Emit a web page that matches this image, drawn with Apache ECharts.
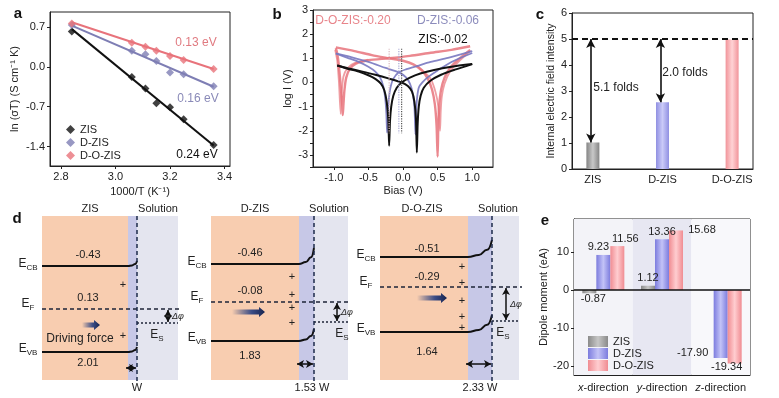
<!DOCTYPE html>
<html>
<head>
<meta charset="utf-8">
<script src="https://cdn.jsdelivr.net/npm/echarts@6/dist/echarts.min.js"></script>
<style>
  html, body { margin: 0; padding: 0; background: #fff; }
  #chart { width: 779px; height: 398px; }
</style>
</head>
<body>
<div id="chart"></div>
<script>
// ---------- panel a : Arrhenius plot ----------
const invT = [2.84, 3.06, 3.11, 3.15, 3.20, 3.25, 3.36];
const lnZIS = [0.62, -0.18, -0.38, -0.64, -0.71, -0.92, -1.37];
const lnDZIS = [0.73, 0.28, 0.22, 0.10, -0.10, -0.13, -0.34];
const lnDOZIS = [0.76, 0.42, 0.35, 0.28, 0.19, 0.12, -0.04];
const fitEnds = [2.84, 3.36];
const fitZIS = [0.66, -1.38];
const fitDZIS = [0.72, -0.35];
const fitDOZIS = [0.78, -0.04];
const activation = ['0.24 eV', '0.16 eV', '0.13 eV'];
const aTicksX = [2.8, 3.0, 3.2, 3.4];
const aTicksY = [-1.4, -0.7, 0, 0.7];

// ---------- panel b : log I vs bias (two sweeps per sample) ----------
const zisSweepA = [[-0.95,0.70],[-0.8,0.57],[-0.64,0.45],[-0.5,0.30],[-0.4,0.15],[-0.32,-0.05],[-0.27,-0.32],[-0.235,-0.8],[-0.213,-1.5],[-0.20,-2.62],
  [-0.188,-1.6],[-0.17,-1.0],[-0.14,-0.55],[-0.09,-0.22],[-0.02,0.0],[0.1,0.2],[0.25,0.37],[0.45,0.52],[0.7,0.65],[1.0,0.76]];
const zisSweepB = [[-0.95,0.70],[-0.8,0.59],[-0.6,0.46],[-0.4,0.32],[-0.2,0.16],[-0.02,0.0],[0.07,-0.15],[0.13,-0.38],[0.165,-0.8],[0.187,-1.5],[0.20,-2.9],
  [0.212,-1.7],[0.228,-1.0],[0.255,-0.55],[0.3,-0.22],[0.4,0.08],[0.55,0.32],[0.75,0.53],[1.0,0.76]];
const dzisSweepA = [[-0.97,1.2],[-0.8,1.02],[-0.64,0.85],[-0.5,0.65],[-0.4,0.45],[-0.33,0.2],[-0.285,-0.15],[-0.255,-0.7],[-0.24,-1.3],[-0.23,-2.08],
  [-0.22,-1.3],[-0.205,-0.7],[-0.18,-0.2],[-0.14,0.15],[-0.06,0.42],[0.05,0.55],[0.2,0.68],[0.4,0.85],[0.65,1.02],[1.0,1.3]];
const dzisSweepB = [[-0.97,1.2],[-0.75,1.05],[-0.5,0.85],[-0.25,0.6],[-0.06,0.42],[0.04,0.22],[0.1,-0.05],[0.14,-0.45],[0.165,-1.0],[0.18,-2.15],
  [0.19,-1.2],[0.205,-0.6],[0.23,-0.2],[0.28,0.0],[0.36,0.22],[0.5,0.5],[0.7,0.85],[1.0,1.22]];
const dozisSweepA = [[-0.97,1.42],[-0.95,1.2],[-0.93,0.8],[-0.91,0.2],[-0.89,-0.5],[-0.875,-1.0],[-0.87,-1.35],
  [-0.86,-0.9],[-0.845,-0.3],[-0.82,0.2],[-0.77,0.55],[-0.68,0.78],[-0.5,0.92],[-0.2,1.0],[0.1,1.1],[0.4,1.23],[0.7,1.35],[0.97,1.5]];
const dozisSweepB = [[-0.97,1.45],[-0.7,1.3],[-0.45,1.13],[-0.2,1.0],[0.0,0.9],[0.15,0.75],[0.27,0.5],[0.36,0.15],[0.42,-0.3],[0.46,-0.9],[0.485,-1.8],[0.50,-3.07],
  [0.51,-1.8],[0.525,-0.9],[0.55,-0.3],[0.6,0.2],[0.68,0.6],[0.8,0.95],[0.97,1.35]];
const dozisRepeatA = [[-0.98,1.35],[-0.95,0.9],[-0.925,0.0],[-0.9,-1.3],[-0.885,-0.4],[-0.86,0.25],[-0.8,0.6],[-0.7,0.8],[-0.5,0.94]];
const dozisRepeatB = [[0.2,0.7],[0.3,0.45],[0.4,0.15],[0.47,-0.4],[0.51,-1.0],[0.535,-2.0],[0.545,-1.2],[0.56,-0.6],[0.6,-0.05],[0.68,0.45],[0.8,0.85],[0.97,1.3]];
const crossBias = [-0.20, -0.06, -0.02];
const crossLabels = ['D-O-ZIS:-0.20', 'D-ZIS:-0.06', 'ZIS:-0.02'];
const bTicksX = [-1, -0.5, 0, 0.5, 1];

// ---------- panel c : internal electric field ----------
const cCats = ['ZIS', 'D-ZIS', 'D-O-ZIS'];
const cField = [1.02, 2.57, 4.98];
const cRef = 5;
const cFolds = ['5.1 folds', '2.0 folds'];

// ---------- panel d : band diagrams ----------
const dSamples = ['ZIS', 'D-ZIS', 'D-O-ZIS'];
const dECB = ['-0.43', '-0.46', '-0.51'];
const dEF = ['0.13', '-0.08', '-0.29'];
const dEVB = ['2.01', '1.83', '1.64'];
const dW = ['W', '1.53 W', '2.33 W'];

// ---------- panel e : dipole moment ----------
const eDirs = ['x-direction', 'y-direction', 'z-direction'];
const eZIS = [-0.87, 1.12, '-'];
const eDZIS = [9.23, 13.36, -17.90];
const eDOZIS = [11.56, 15.68, -19.34];

// ---------- drawing ----------
const FONT = '"Liberation Sans", Arial, Helvetica, sans-serif';
const INK = '#222';
const cA = ['#111111', '#7e7eb4', '#e8737b'];

function valAxis(grid, min, max, ticks, fmt, extra) {
  return Object.assign({
    type: 'value', gridIndex: grid, min: min, max: max,
    axisLine: { show: true, onZero: false, lineStyle: { color: INK, width: 1 } },
    axisTick: { show: true, customValues: ticks, length: 3, lineStyle: { color: INK } },
    axisLabel: { customValues: ticks, formatter: fmt, color: INK, fontSize: 11, fontFamily: FONT, margin: 5,
      showMinLabel: true, showMaxLabel: true, hideOverlap: false },
    splitLine: { show: false },
    nameLocation: 'middle',
    nameTextStyle: { color: INK, fontSize: 11, fontFamily: FONT }
  }, extra || {});
}
const f1 = v => Number(v).toFixed(1);
const f0 = v => String(Math.round(v));

function cyl(edge, mid) {
  return { type: 'linear', x: 0, y: 0, x2: 1, y2: 0,
    colorStops: [{ offset: 0, color: edge }, { offset: 0.5, color: mid }, { offset: 1, color: edge }] };
}
function txt(x, y, text, o) {
  const st = Object.assign({ text: text, fill: INK, font: '12px ' + FONT,
    textAlign: 'center', textVerticalAlign: 'middle', align: 'center', verticalAlign: 'middle' }, o || {});
  return { type: 'text', x: x, y: y, z: 100, silent: true, style: st };
}
const subRich = {
  m: { fontSize: 12, fontFamily: FONT, lineHeight: 16, color: INK },
  s: { fontSize: 8, fontFamily: FONT, verticalAlign: 'bottom', color: INK }
};
function subTxt(x, y, main, sub) {
  return txt(x, y, '{m|' + main + '}{s|' + sub + '}', { rich: subRich });
}

const series = [];

// panel a
const aNames = ['ZIS', 'D-ZIS', 'D-O-ZIS'];
const aVals = [lnZIS, lnDZIS, lnDOZIS];
const aFits = [fitZIS, fitDZIS, fitDOZIS];
aNames.forEach((n, k) => {
  series.push({ type: 'line', xAxisIndex: 0, yAxisIndex: 0, silent: true, showSymbol: false, z: 2,
    data: fitEnds.map((x, i) => [x, aFits[k][i]]), lineStyle: { color: cA[k], width: 2 } });
  series.push({ name: n, type: 'scatter', xAxisIndex: 0, yAxisIndex: 0, z: 3, symbol: 'diamond', symbolSize: 8,
    data: invT.map((x, i) => [x, aVals[k][i]]), itemStyle: { color: cA[k] } });
});

// panel b
const bLines = [
  [dozisSweepA, cA[2], 2.4, 0.85], [dozisSweepB, cA[2], 2.4, 0.85],
  [dozisRepeatA, cA[2], 1.8, 0.7], [dozisRepeatB, cA[2], 1.8, 0.7],
  [dzisSweepA, '#7878c0', 1.8, 0.9], [dzisSweepB, '#7878c0', 1.8, 0.9],
  [zisSweepA, '#111', 2, 1], [zisSweepB, '#111', 2, 1]
];
bLines.forEach(l => series.push({ type: 'line', xAxisIndex: 1, yAxisIndex: 1, silent: true, showSymbol: false,
  smooth: 0.25, data: l[0], lineStyle: { color: l[1], width: l[2], opacity: l[3] } }));
const crossColors = ['#d9b8be', '#a8a8d4', '#555'];
crossBias.forEach((v, i) => series.push({ type: 'line', xAxisIndex: 1, yAxisIndex: 1, silent: true, showSymbol: false,
  data: [[v, 1.4], [v, -2.1]], lineStyle: { color: crossColors[i], width: 1.2, type: 'dotted' } }));

// panel c
const cColors = [['#858585', '#c8c8c8'], ['#9090e2', '#cacaf8'], ['#f1949a', '#ffd3d5']];
series.push({ type: 'bar', xAxisIndex: 2, yAxisIndex: 2, barWidth: 13, silent: true,
  data: cField.map((v, i) => ({ value: [i + 1, v], itemStyle: { color: cyl(cColors[i][0], cColors[i][1]) } })),
  markLine: { silent: true, symbol: ['none', 'none'], symbolSize: [7, 9], label: { show: false },
    lineStyle: { color: '#111', width: 1.6, type: 'solid' },
    data: [
      { yAxis: cRef, lineStyle: { type: [6, 4], width: 1.8, color: '#111' } },
      [{ coord: [0.97, cField[0]], symbol: 'arrow' }, { coord: [0.97, cRef], symbol: 'arrow' }],
      [{ coord: [1.97, cField[1]], symbol: 'arrow' }, { coord: [1.97, cRef], symbol: 'arrow' }]
    ] } });

// panel d (schematic, drawn in a hidden pixel-scaled grid)
const dGeo = [
  { x0: 42, xd: 128, xs: 137, xe: 178, cb: 266, f: 309, s: 323, vb: 352, bcb: 5, bvb: 5, dphi: 168, wY: 368, wX: 137,
    plusX: 123, plusY: [285, 336], arrow: [82, 100, 325], tx: 88, cbT: 255, fT: 298, vbT: 363, solX: 158, titleX: 90, esX: 157 },
  { x0: 211, xd: 299, xs: 314, xe: 348, cb: 264, f: 302, s: 322, vb: 341, bcb: 16, bvb: 12, dphi: 337, wY: 364, wX: 312,
    plusX: 292, plusY: [277, 295, 308, 323], arrow: [232, 265, 312], tx: 250, cbT: 253, fT: 291, vbT: 356, solX: 329, titleX: 255, esX: 342 },
  { x0: 380, xd: 468, xs: 492, xe: 519, cb: 257, f: 287, s: 321, vb: 332, bcb: 17, bvb: 17, dphi: 506, wY: 364, wX: 480,
    plusX: 462, plusY: [267, 283, 301, 317, 328], arrow: [417, 447, 298], tx: 427, cbT: 249, fT: 277, vbT: 352, solX: 498, titleX: 422, esX: 503 }
];
const dTop = 216, dBottom = 380;
const dAreas = [];
dGeo.forEach(g => {
  dAreas.push([{ coord: [g.x0, dTop], itemStyle: { color: '#f8cdb0', opacity: 1 } }, { coord: [g.xd, dBottom] }]);
  dAreas.push([{ coord: [g.xd, dTop], itemStyle: { color: '#c7c8e7', opacity: 1 } }, { coord: [g.xs, dBottom] }]);
  dAreas.push([{ coord: [g.xs, dTop], itemStyle: { color: '#e4e5ef', opacity: 1 } }, { coord: [g.xe, dBottom] }]);
});
series.push({ type: 'line', xAxisIndex: 3, yAxisIndex: 3, silent: true, data: [], z: 1,
  markArea: { silent: true, label: { show: false }, data: dAreas } });
function bend(g, y, b) {
  const w = g.xs - g.xd;
  return [[g.x0, y], [g.xd, y], [g.xd + 0.45 * w, y - 0.12 * b], [g.xd + 0.8 * w, y - 0.42 * b], [g.xs, y - b]];
}
const dLine = (data, style, smooth) => ({ type: 'line', xAxisIndex: 3, yAxisIndex: 3, silent: true, showSymbol: false,
  smooth: smooth ? 0.5 : false, smoothMonotone: 'x', data: data, lineStyle: style, z: 3 });
dGeo.forEach(g => {
  series.push(dLine(bend(g, g.cb, g.bcb), { color: '#111', width: 2 }, true));
  series.push(dLine(bend(g, g.vb, g.bvb), { color: '#111', width: 2 }, true));
  series.push(dLine([[g.x0, g.f], [g.xe + 3, g.f]], { color: '#1e2538', width: 1.5, type: [4, 3] }));
  series.push(dLine([[g.xs, g.s], [g.xe, g.s]], { color: '#1e2538', width: 1.3, type: [2, 2] }));
  series.push(Object.assign(dLine([[g.xs, dTop], [g.xs, dBottom + 3]], { color: '#1d2a4a', width: 1.5, type: [4, 3] }), {
    markLine: { silent: true, symbol: ['none', 'none'], symbolSize: [6, 7], label: { show: false },
      lineStyle: { color: '#111', width: 1.5, type: 'solid' },
      data: [
        [{ coord: [g.dphi, g.f + 1], symbol: 'arrow' }, { coord: [g.dphi, g.s - 1], symbol: 'arrow' }],
        [{ coord: [g.xd - 2, g.wY], symbol: 'arrow' }, { coord: [g.xs - 1, g.wY], symbol: 'arrow' }]
      ] } }));
});

// panel e
const eShade = [['#f3f3f8', 0, 1], ['#e7e7f2', 1, 2], ['#f8f8fb', 2, 3]];
series.push({ type: 'line', xAxisIndex: 5, yAxisIndex: 4, silent: true, data: [], z: 1,
  markArea: { silent: true, label: { show: false },
    data: eShade.map(s => [{ xAxis: s[1], itemStyle: { color: s[0], opacity: 1 } }, { xAxis: s[2] }]) } });
const eNames = ['e:ZIS', 'e:D-ZIS', 'e:D-O-ZIS'];
const eVals = [eZIS, eDZIS, eDOZIS];
const eColors = [['#8a8a8a', '#c6c6c6'], ['#7c7cde', '#c3c3f7'], ['#f08c92', '#ffcdd0']];
const eLabelPos = [
  [['bottom', [4, -2]], ['top', [0, 0]], null],
  [['top', [-5, 0]], ['top', [0, 0]], ['bottom', [-28, -12]]],
  [['top', [8, 0]], ['top', [26, 7]], ['bottom', [-8, -4]]]
];
eNames.forEach((n, k) => {
  series.push({ name: n, type: 'bar', xAxisIndex: 4, yAxisIndex: 4, barWidth: 14, barGap: '0%', silent: true, z: 3,
    itemStyle: { color: cyl(eColors[k][0], eColors[k][1]) },
    data: eVals[k].map((v, i) => {
      const p = eLabelPos[k][i];
      return { value: v, label: p ? { show: true, position: p[0], offset: p[1] } : { show: false } };
    }),
    label: { show: true, color: INK, fontSize: 11, fontFamily: FONT, distance: 2,
      formatter: p => (typeof p.value === 'number' ? p.value.toFixed(2) : '') },
    markLine: k === 0 ? { silent: true, symbol: ['none', 'none'], label: { show: false },
      lineStyle: { color: '#111', width: 1.6, type: 'solid' }, data: [{ yAxis: 0 }] } : undefined
  });
});

// texts
const graphics = [];
[['a', 18, 14], ['b', 277, 15], ['c', 540, 15], ['d', 17, 219], ['e', 545, 221]].forEach(l =>
  graphics.push(txt(l[1], l[2], l[0], { font: 'bold 15px ' + FONT, fill: '#111' })));
graphics.push(txt(196, 43, activation[2], { fill: '#e07a80' }));
graphics.push(txt(198, 99, activation[1], { fill: '#8a8ab8' }));
graphics.push(txt(197, 155, activation[0], { fill: '#111' }));
graphics.push(txt(353, 21, crossLabels[0], { fill: '#e8848a' }));
graphics.push(txt(448, 21, crossLabels[1], { fill: '#8c8cbc' }));
graphics.push(txt(443, 40, crossLabels[2], { fill: '#111' }));
graphics.push(txt(616, 88, cFolds[0]));
graphics.push(txt(685, 73, cFolds[1]));
dGeo.forEach((g, i) => {
  graphics.push(txt(g.titleX, 209, dSamples[i], { font: '11px ' + FONT }));
  graphics.push(txt(g.solX, 209, 'Solution', { font: '11px ' + FONT }));
  graphics.push(txt(g.tx, g.cbT, dECB[i], { font: '11px ' + FONT }));
  graphics.push(txt(g.tx, g.fT, dEF[i], { font: '11px ' + FONT }));
  graphics.push(txt(g.tx, g.vbT, dEVB[i], { font: '11px ' + FONT }));
  graphics.push(subTxt(g.x0 - 14, g.cb - 2, 'E', 'CB'));
  graphics.push(subTxt(g.x0 - 14, g.f - 5, 'E', 'F'));
  graphics.push(subTxt(g.x0 - 14, g.vb - 3, 'E', 'VB'));
  graphics.push(subTxt(g.esX, g.s + 12, 'E', 'S'));
  graphics.push(txt(g.dphi + 4, (g.f + g.s) / 2, 'Δφ', { font: 'italic 9px ' + FONT, textAlign: 'left', align: 'left' }));
  graphics.push(txt(g.wX, 388, dW[i], { font: '11px ' + FONT }));
  g.plusY.forEach(y => graphics.push(txt(g.plusX, y, '+', { font: '11px ' + FONT })));
  const a = g.arrow, x1 = a[0], x2 = a[1], y = a[2];
  graphics.push({ type: 'polygon', z: 90, silent: true,
    shape: { points: [[x1, y - 2.5], [x2 - 6, y - 2.5], [x2 - 6, y - 5], [x2, y], [x2 - 6, y + 5], [x2 - 6, y + 2.5], [x1, y + 2.5]] },
    style: { fill: { type: 'linear', x: 0, y: 0, x2: 1, y2: 0,
      colorStops: [{ offset: 0, color: 'rgba(40,60,120,0)' }, { offset: 0.6, color: '#3a4c86' }, { offset: 1, color: '#17244f' }] } } });
});
graphics.push(txt(80, 339, 'Driving force', { font: '12px ' + FONT }));

// panel b y axis: ticks every 0.5 (minor look), labels only on whole numbers
const bAxisY = {
  type: 'value', gridIndex: 1, min: -3.5, max: 3, interval: 0.5,
  axisLine: { show: true, onZero: false, lineStyle: { color: INK, width: 1 } },
  axisTick: { show: true, length: 3, lineStyle: { color: INK } },
  axisLabel: { color: INK, fontSize: 11, fontFamily: FONT, margin: 5, showMaxLabel: true,
    formatter: v => (Number.isInteger(v) ? String(v) : '') },
  splitLine: { show: false },
  name: 'log I (V)', nameLocation: 'middle', nameGap: 20,
  nameTextStyle: { color: INK, fontSize: 11, fontFamily: FONT }
};

const option = {
  animation: false,
  backgroundColor: '#fff',
  textStyle: { fontFamily: FONT },
  grid: [
    { left: 50, top: 12, width: 180, height: 154, show: true, borderColor: INK, borderWidth: 1 },
    { left: 313, top: 10, width: 180, height: 157, show: true, borderColor: INK, borderWidth: 1 },
    { left: 572, top: 13, width: 181, height: 156, show: true, borderColor: INK, borderWidth: 1 },
    { left: 0, top: 200, width: 530, height: 198, show: false },
    { left: 574, top: 219, width: 176, height: 156, show: true, borderColor: INK, borderWidth: 1 }
  ],
  xAxis: [
    valAxis(0, 2.76, 3.42, aTicksX, f1, { name: '1000/T (K⁻¹)', nameGap: 20 }),
    valAxis(1, -1.3, 1.3, bTicksX, f1, { name: 'Bias (V)', nameGap: 18 }),
    valAxis(2, 0.7, 3.3, [1, 2, 3], v => cCats[Math.round(v) - 1], { axisTick: { show: false } }),
    { type: 'value', gridIndex: 3, min: 0, max: 530, show: false },
    { type: 'category', gridIndex: 4, data: eDirs,
      axisLine: { onZero: false, lineStyle: { color: INK } }, axisTick: { show: false },
      axisLabel: { interval: 0, color: INK, fontSize: 11, fontFamily: FONT, margin: 7,
        formatter: v => '{i|' + v[0] + '}' + v.slice(1), rich: { i: { fontStyle: 'italic', fontSize: 11, fontFamily: FONT, color: INK } } } },
    { type: 'value', gridIndex: 4, min: 0, max: 3, show: false }
  ],
  yAxis: [
    valAxis(0, -1.74, 0.96, aTicksY, f1, { name: 'ln (σT) (S cm⁻¹ K)', nameGap: 30 }),
    bAxisY,
    valAxis(2, 0, 6, [0, 1, 2, 3, 4, 5, 6], f0, { name: 'Internal electric field intensity', nameGap: 14,
      nameTextStyle: { color: INK, fontSize: 10.5, fontFamily: FONT } }),
    { type: 'value', gridIndex: 3, min: 200, max: 398, inverse: true, show: false },
    valAxis(4, -22.4, 18.7, [-20, -10, 0, 10], f0, { name: 'Dipole moment (eA)', nameGap: 24 })
  ],
  legend: [
    { data: aNames, orient: 'vertical', left: 61, top: 119, itemGap: 2, itemWidth: 9, itemHeight: 9, icon: 'diamond',
      selectedMode: false, textStyle: { fontSize: 11, fontFamily: FONT, color: INK } },
    { data: eNames, formatter: n => n.slice(2), orient: 'vertical', left: 583, top: 331, itemGap: 1,
      itemWidth: 20, itemHeight: 11, icon: 'rect', selectedMode: false, textStyle: { fontSize: 11, fontFamily: FONT, color: INK } }
  ],
  graphic: graphics,
  series: series
};

const chart = echarts.init(document.getElementById('chart'));
chart.setOption(option);
</script>
</body>
</html>
